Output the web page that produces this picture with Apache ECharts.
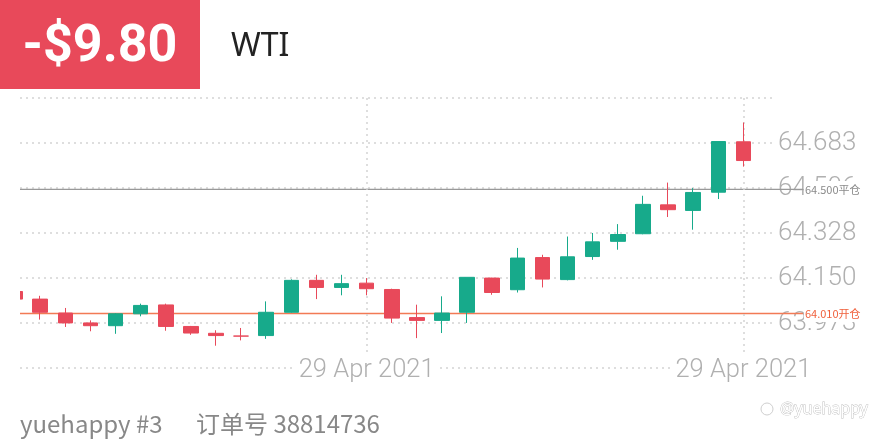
<!DOCTYPE html>
<html>
<head>
<meta charset="utf-8">
<script src="https://cdn.jsdelivr.net/npm/echarts@6/dist/echarts.min.js"></script>
<style>
html,body{margin:0;padding:0;background:#fff;}
#chart{width:880px;height:440px;}
</style>
</head>
<body>
<div id="chart"></div>
<script>
// ---- data ----
var open  = [64.097, 64.067, 64.012, 63.973, 63.962, 64.009, 64.044, 63.959, 63.932, 63.921, 63.923, 64.015, 64.141, 64.113, 64.130, 64.105, 63.994, 63.983, 64.015, 64.150, 64.104, 64.231, 64.144, 64.235, 64.295, 64.325, 64.439, 64.417, 64.489, 64.688];
var close = [64.067, 64.015, 63.973, 63.962, 64.009, 64.042, 63.959, 63.933, 63.923, 63.921, 64.015, 64.141, 64.113, 64.128, 64.108, 63.992, 63.983, 64.012, 64.153, 64.093, 64.229, 64.146, 64.234, 64.293, 64.322, 64.441, 64.420, 64.488, 64.689, 64.614];
var low   = [64.062, 63.986, 63.957, 63.940, 63.930, 63.999, 63.942, 63.926, 63.883, 63.904, 63.910, 64.013, 64.067, 64.082, 64.082, 63.973, 63.913, 63.933, 63.973, 64.084, 64.093, 64.113, 64.141, 64.222, 64.262, 64.323, 64.391, 64.341, 64.462, 64.590];
var high  = [64.102, 64.080, 64.032, 63.983, 64.012, 64.049, 64.049, 63.961, 63.944, 63.953, 64.058, 64.145, 64.163, 64.163, 64.150, 64.108, 64.045, 64.078, 64.153, 64.151, 64.269, 64.242, 64.314, 64.328, 64.363, 64.475, 64.527, 64.505, 64.689, 64.764];
var dateTickIndex = [14, 29];
var dateTickLabels = ['29 Apr 2021', '29 Apr 2021'];
var yMin = 63.795, yInterval = 0.17765, yMax = 64.8609;
var xMin = 0.195, xMax = 30.18;
var priceLineValues = [64.500, 64.010];
var priceLineLabels = ['64.500平仓', '64.010开仓'];
var badgeText = '-$9.80';
var symbolText = 'WTI';
var footerUser = 'yuehappy #3';
var footerOrder = '订单号 38814736';
var watermarkText = '@yuehappy';

// ---- build ----
var candleData = open.map(function (o, i) { return [i, o, close[i], low[i], high[i]]; });
var dotted = { type: [2, 4], color: '#d3d3d3', width: 1.5 };
var RED = '#e8495a', GREEN = '#17aa8b';
var lineColors = ['#999999', '#f27a55'];
var lineWidths = [1.1, 1.4];
var labelColors = ['#8a8a8a', '#f0603c'];

var chart = echarts.init(document.getElementById('chart'), null, { renderer: 'canvas' });

var priceSeries = priceLineValues.map(function (v, k) {
  return {
    type: 'line', xAxisIndex: 1, yAxisIndex: 1, z: 1,
    data: [[0, v], [1, v]], symbol: 'none', silent: true,
    color: lineColors[k],
    itemStyle: { color: lineColors[k] },
    lineStyle: { color: lineColors[k], width: lineWidths[k], opacity: 1 },
    endLabel: {
      show: true, formatter: priceLineLabels[k], distance: 1,
      color: labelColors[k], fontSize: 11, fontFamily: 'Noto Sans CJK SC',
      backgroundColor: '#fff', padding: [3, 2, 3, 1]
    }
  };
});

chart.setOption({
  animation: false,
  backgroundColor: '#fff',
  grid: [
    { left: 20, right: 107, top: 98, bottom: 72 },
    { left: 20, right: 77, top: 98, bottom: 72 }
  ],
  xAxis: [
    {
      type: 'value', gridIndex: 0, min: xMin, max: xMax, z: 3,
      axisLine: { show: false },
      axisTick: { show: false, customValues: dateTickIndex },
      axisLabel: {
        customValues: dateTickIndex,
        formatter: function (v) { var k = dateTickIndex.indexOf(Math.round(v)); return k >= 0 ? dateTickLabels[k] : ''; },
        color: '#b0b0b0', fontSize: 25.5, fontFamily: 'Roboto', fontWeight: 300,
        backgroundColor: '#fff', padding: [2, 4], lineHeight: 26, margin: -12
      },
      splitLine: { show: true, lineStyle: dotted }
    },
    { type: 'value', gridIndex: 1, min: 0, max: 1, show: false }
  ],
  yAxis: [
    {
      type: 'value', gridIndex: 0, position: 'right', min: yMin, max: yMax, interval: yInterval,
      axisLine: { show: false }, axisTick: { show: false },
      axisLabel: {
        showMinLabel: false, showMaxLabel: false, margin: 5,
        formatter: function (v) { return v.toFixed(3); },
        color: '#b0b0b0', fontSize: 26, fontFamily: 'Roboto', fontWeight: 300
      },
      splitLine: { show: true, lineStyle: dotted }
    },
    { type: 'value', gridIndex: 1, min: yMin, max: yMax, show: false, splitLine: { show: false } }
  ],
  series: priceSeries.concat([{
    type: 'candlestick', xAxisIndex: 0, yAxisIndex: 0, z: 5, clip: false,
    data: candleData, encode: { x: 0, y: [1, 2, 3, 4] },
    barWidth: 15,
    itemStyle: { color: GREEN, color0: RED, borderColor: GREEN, borderColor0: RED, borderColorDoji: RED, borderWidth: 1 }
  }]),
  graphic: [
    { type: 'rect', z: 100, shape: { x: 0, y: 90, width: 20, height: 290 }, style: { fill: '#fff' } },
    { type: 'rect', z: 100, shape: { x: 0, y: 0, width: 200, height: 89 }, style: { fill: RED } },
    { type: 'text', z: 101, style: { x: 100, y: 48, text: badgeText, fill: '#fff', font: 'bold 52px Roboto', textAlign: 'center', textVerticalAlign: 'middle' } },
    { type: 'text', z: 101, style: { x: 231, y: 47, text: symbolText, fill: '#222', font: '32px "Noto Sans"', textAlign: 'left', textVerticalAlign: 'middle' } },
    { type: 'text', z: 101, style: { x: 20, y: 424, text: footerUser, fill: '#888', font: '24px "Noto Sans CJK SC"', textAlign: 'left', textVerticalAlign: 'middle' } },
    { type: 'text', z: 101, style: { x: 196, y: 424, text: footerOrder, fill: '#888', font: '24px "Noto Sans CJK SC"', textAlign: 'left', textVerticalAlign: 'middle' } },
    { type: 'circle', z: 101, shape: { cx: 767, cy: 409, r: 6 }, style: { fill: 'none', stroke: '#cfcfcf', lineWidth: 1 } },
    { type: 'text', z: 101, style: { x: 780, y: 409, text: watermarkText, fill: '#fff', stroke: '#bdbdbd', lineWidth: 0.8, font: '16px "Noto Sans"', textAlign: 'left', textVerticalAlign: 'middle' } }
  ]
});
</script>
</body>
</html>
